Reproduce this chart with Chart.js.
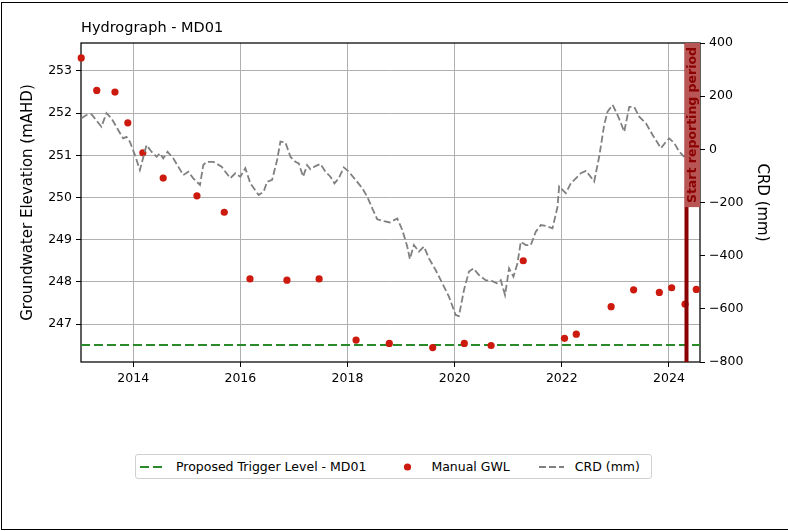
<!DOCTYPE html>
<html>
<head>
<meta charset="utf-8">
<title>Hydrograph - MD01</title>
<script src="https://cdn.jsdelivr.net/npm/chart.js@4.4.1/dist/chart.umd.min.js"></script>
<style>
  html, body { margin: 0; padding: 0; background: #fff; overflow: hidden; }
  #wrap { position: relative; width: 788px; height: 531px; overflow: hidden; }
  #frame { position: absolute; left: 1px; top: 2px; width: 820px; height: 526px; border: 1px solid #000; pointer-events: none; }
  #legend {
    position: absolute; left: 135px; top: 454px; width: 511px; height: 23px;
    border: 1px solid #d0d0d0; border-radius: 3px; background: #fff;
    display: flex; align-items: center; padding-left: 4px; box-sizing: content-box;
    font: 12.5px "DejaVu Sans", sans-serif; color: #000; white-space: nowrap;
  }
  .item { display: flex; align-items: center; margin-right: 29px; }
  .item svg { margin-right: 11px; }
</style>
</head>
<body>
<div id="wrap">
  <canvas id="chart" width="788" height="531"></canvas>
  <div id="legend"></div>
  <div id="frame"></div>
</div>
<script>
// Titulos e rotulos
const chartTitle = 'Hydrograph - MD01';
const leftAxisTitle = 'Groundwater Elevation (mAHD)';
const rightAxisTitle = 'CRD (mm)';
const reportLabel = 'Start reporting period';

// Eixos (anos decimais)
const xMin = 2013.026;
const xMax = 2024.579;
const yearTicks = [2014, 2016, 2018, 2020, 2022, 2024];
const elevMin = 246.099;
const elevMax = 253.664;
const elevTicks = [247, 248, 249, 250, 251, 252, 253];
const crdMin = -800;
const crdMax = 400;
const crdTicks = [-800, -600, -400, -200, 0, 200, 400];

// Nivel de gatilho e inicio do periodo de relatorio
const triggerLevel = 246.5;
const reportStart = 2024.327;

// Leituras manuais (GWL)
const gwlDates = [2013.03, 2013.32, 2013.66, 2013.90, 2014.18, 2014.56, 2015.19, 2015.70, 2016.18, 2016.87,
  2017.47, 2018.16, 2018.78, 2019.59, 2020.18, 2020.68, 2021.28, 2022.05, 2022.27, 2022.92,
  2023.34, 2023.82, 2024.05, 2024.30, 2024.51];
const gwlLevels = [253.31, 252.54, 252.50, 251.77, 251.06, 250.46, 250.04, 249.65, 248.07, 248.04,
  248.07, 246.62, 246.54, 246.44, 246.54, 246.49, 248.50, 246.66, 246.76, 247.41,
  247.81, 247.75, 247.86, 247.47, 247.82];

// CRD (mm)
const crdDates = [2013.034, 2013.127, 2013.221, 2013.407, 2013.501, 2013.594, 2013.720, 2013.813, 2013.875, 2013.938,
  2014.032, 2014.125, 2014.249, 2014.342, 2014.436, 2014.499, 2014.561, 2014.641, 2014.748, 2014.841,
  2014.935, 2015.028, 2015.121, 2015.247, 2015.308, 2015.370, 2015.495, 2015.650, 2015.813, 2015.907,
  2016.000, 2016.093, 2016.187, 2016.342, 2016.436, 2016.499, 2016.593, 2016.686, 2016.748, 2016.841,
  2016.935, 2017.028, 2017.090, 2017.172, 2017.247, 2017.308, 2017.402, 2017.495, 2017.589, 2017.682,
  2017.757, 2017.837, 2017.931, 2018.024, 2018.150, 2018.275, 2018.368, 2018.462, 2018.555, 2018.679,
  2018.791, 2018.929, 2019.022, 2019.116, 2019.164, 2019.239, 2019.333, 2019.426, 2019.520, 2019.645,
  2019.770, 2019.893, 2020.019, 2020.080, 2020.174, 2020.267, 2020.350, 2020.454, 2020.579, 2020.705,
  2020.785, 2020.860, 2020.940, 2021.015, 2021.097, 2021.172, 2021.234, 2021.327, 2021.421, 2021.514,
  2021.607, 2021.701, 2021.826, 2021.920, 2021.950, 2022.075, 2022.168, 2022.262, 2022.355, 2022.449,
  2022.510, 2022.604, 2022.697, 2022.791, 2022.854, 2022.948, 2023.041, 2023.103, 2023.165, 2023.258,
  2023.351, 2023.445, 2023.570, 2023.695, 2023.850, 2023.944, 2024.006, 2024.099, 2024.193, 2024.286];
const crdValues = [117, 129, 132, 85, 136, 117, 73, 41, 47, 29,
  -21, -78, 16, -9, -28, -15, -34, -9, -34, -65,
  -97, -84, -109, -134, -59, -47, -47, -65, -109, -90,
  -103, -71, -128, -172, -159, -122, -115, -40, 29, 26,
  -28, -47, -53, -103, -59, -75, -63, -55, -84, -103,
  -128, -109, -68, -84, -115, -146, -178, -222, -263, -270,
  -275, -260, -303, -366, -413, -360, -385, -366, -410, -454,
  -504, -554, -623, -627, -529, -460, -448, -473, -492, -496,
  -504, -492, -548, -448, -479, -429, -348, -360, -360, -310,
  -285, -288, -297, -216, -140, -165, -128, -109, -90, -81,
  -96, -121, -28, 92, 142, 167, 129, 98, 66, 160,
  160, 123, 98, 54, 4, 29, 41, 23, -9, -28];

// Estilo
const FONT = { family: 'DejaVu Sans', size: 12.5 };
const LABEL_FONT = { family: 'DejaVu Sans', size: 15 };
const gridColor = '#b0b0b0';
const gwlColor = '#cc1a0e';
const crdColor = '#808080';
const triggerColor = '#2a8a2a';
const reportColor = '#8b0000';
const reportBoxColor = '#b85555';

function minusLabel(v) {
  return v < 0 ? '\u2212' + Math.abs(v) : String(v);
}

const datasets = [
  {
    label: 'CRD (mm)',
    type: 'line',
    yAxisID: 'y1',
    data: crdDates.map((d, i) => ({ x: d, y: crdValues[i] })),
    borderColor: crdColor,
    borderWidth: 1.8,
    borderDash: [7, 3],
    pointRadius: 0,
    tension: 0,
    order: 0
  },
  {
    label: 'Manual GWL',
    type: 'scatter',
    yAxisID: 'y',
    data: gwlDates.map((d, i) => ({ x: d, y: gwlLevels[i] })),
    backgroundColor: gwlColor,
    borderWidth: 0,
    pointRadius: 3.6,
    clip: false,
    order: 1
  },
  {
    label: 'Proposed Trigger Level - MD01',
    type: 'line',
    yAxisID: 'y',
    data: [{ x: xMin, y: triggerLevel }, { x: xMax, y: triggerLevel }],
    borderColor: triggerColor,
    borderWidth: 2,
    borderDash: [9, 4],
    pointRadius: 0,
    order: 2
  }
];

// Moldura, titulo e linha vertical
const overlayPlugin = {
  id: 'overlay',
  beforeDatasetsDraw(chart) {
    const { ctx, chartArea: a } = chart;
    ctx.save();
    ctx.strokeStyle = '#000';
    ctx.lineWidth = 1.25;
    ctx.strokeRect(a.left, a.top, a.right - a.left, a.bottom - a.top);
    ctx.font = '14.5px "DejaVu Sans"';
    ctx.fillStyle = '#000';
    ctx.textAlign = 'left';
    ctx.textBaseline = 'alphabetic';
    ctx.fillText(chartTitle, a.left, 32);
    ctx.restore();
  },
  afterDatasetsDraw(chart) {
    const { ctx, chartArea: a, scales } = chart;
    const x = scales.x.getPixelForValue(reportStart);
    ctx.save();
    ctx.strokeStyle = reportColor;
    ctx.lineWidth = 4;
    ctx.beginPath();
    ctx.moveTo(x, a.top);
    ctx.lineTo(x, a.bottom);
    ctx.stroke();

    ctx.translate(x, a.top);
    ctx.rotate(-Math.PI / 2);
    ctx.font = 'bold 12.5px "DejaVu Sans"';
    const tw = ctx.measureText(reportLabel).width;
    ctx.fillStyle = reportBoxColor;
    ctx.fillRect(-(tw + 8), -1.5, tw + 8, a.right - x + 1.5);
    ctx.fillStyle = reportColor;
    ctx.textAlign = 'right';
    ctx.textBaseline = 'middle';
    ctx.fillText(reportLabel, -4, 6.5);
    ctx.restore();
  }
};

const ctx = document.getElementById('chart').getContext('2d');
const myChart = new Chart(ctx, {
  data: { datasets: datasets },
  options: {
    responsive: false,
    devicePixelRatio: 1,
    animation: false,
    layout: { padding: { left: 19.5, right: 17, top: 43, bottom: 20 } },
    plugins: {
      legend: { display: false },
      tooltip: { enabled: false },
      title: { display: false }
    },
    scales: {
      x: {
        type: 'linear',
        position: 'bottom',
        min: xMin,
        max: xMax,
        afterBuildTicks: (s) => { s.ticks = yearTicks.map(v => ({ value: v })); },
        afterFit: (s) => { s.height = 149; },
        ticks: { font: FONT, color: '#000', padding: 4, maxRotation: 0, callback: (v) => String(v) },
        grid: { color: gridColor, lineWidth: 1, tickColor: '#000', tickLength: 5 },
        border: { display: false }
      },
      y: {
        type: 'linear',
        position: 'left',
        min: elevMin,
        max: elevMax,
        afterBuildTicks: (s) => { s.ticks = elevTicks.map(v => ({ value: v })); },
        afterFit: (s) => { s.width = 61.5; },
        ticks: { font: FONT, color: '#000', padding: 4, callback: (v) => String(v) },
        grid: { color: gridColor, lineWidth: 1, tickColor: '#000', tickLength: 5 },
        border: { display: false },
        title: { display: true, text: leftAxisTitle, font: LABEL_FONT, color: '#000', padding: { top: 0, bottom: 0 } }
      },
      y1: {
        type: 'linear',
        position: 'right',
        min: crdMin,
        max: crdMax,
        afterBuildTicks: (s) => { s.ticks = crdTicks.map(v => ({ value: v })); },
        afterFit: (s) => { s.width = 71; },
        ticks: { font: FONT, color: '#000', padding: 4, callback: (v) => minusLabel(v) },
        grid: { drawOnChartArea: false, tickColor: '#000', tickLength: 5 },
        border: { display: false },
        title: { display: true, text: rightAxisTitle, font: LABEL_FONT, color: '#000', padding: { top: 0, bottom: 0 } }
      }
    }
  },
  plugins: [overlayPlugin]
});

// Legenda em HTML
const legendOrder = ['Proposed Trigger Level - MD01', 'Manual GWL', 'CRD (mm)'];
const legendEl = document.getElementById('legend');
legendOrder.forEach(function(name) {
  const ds = datasets.find(d => d.label === name);
  const item = document.createElement('div');
  item.className = 'item';
  let marker;
  if (ds.type === 'scatter') {
    marker = '<svg width="25" height="10"><circle cx="12.5" cy="5" r="3.6" fill="' + ds.backgroundColor + '"/></svg>';
  } else {
    marker = '<svg width="25" height="10"><line x1="0" y1="5" x2="25" y2="5" stroke="' + ds.borderColor +
      '" stroke-width="' + ds.borderWidth + '" stroke-dasharray="' + ds.borderDash.join(',') + '"/></svg>';
  }
  item.innerHTML = marker + '<span>' + ds.label + '</span>';
  legendEl.appendChild(item);
});
</script>
</body>
</html>
